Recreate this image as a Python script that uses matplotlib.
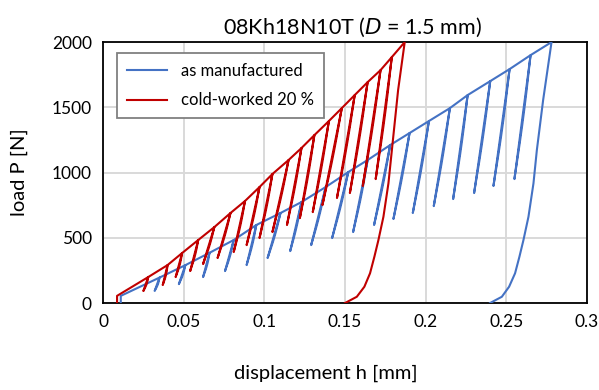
import numpy as np
import matplotlib
matplotlib.use("Agg")
import matplotlib.pyplot as plt

plt.rcParams['font.family'] = ['Lato', 'DejaVu Sans']

# as manufactured (blue)
am_start_h, am_start_P = 0.011, 55
am_peak_h = [0.035, 0.051, 0.066, 0.081, 0.095, 0.110, 0.123, 0.138, 0.152, 0.164,
             0.178, 0.190, 0.202, 0.215, 0.226, 0.240, 0.252, 0.265, 0.278]
am_peak_P = [195, 290, 385, 483, 598, 690, 774, 889, 1004, 1096,
             1211, 1303, 1395, 1494, 1594, 1701, 1793, 1900, 2000]
am_low_h = [0.032, 0.047, 0.062, 0.0756, 0.089, 0.102, 0.116, 0.129, 0.142,
            0.155, 0.168, 0.180, 0.192, 0.205, 0.217, 0.230, 0.242, 0.255]
am_low_P = [93, 145, 199, 245, 291, 345, 398, 444, 498,
            544, 598, 644, 690, 743, 797, 843, 897, 950]
am_unload_h = [0.2728, 0.2689, 0.2668, 0.2637, 0.2606, 0.2581, 0.2554, 0.2517, 0.2472, 0.2399]
am_unload_P = [1556, 1172, 917, 661, 483, 355, 228, 125, 48, 0]

# cold-worked 20 % (red)
cw_start_h, cw_start_P = 0.0087, 55
cw_peak_h = [0.028, 0.040, 0.049, 0.059, 0.069, 0.079, 0.088, 0.097, 0.105, 0.115,
             0.123, 0.131, 0.140, 0.148, 0.156, 0.164, 0.172, 0.179, 0.187]
cw_peak_P = [199, 291, 383, 483, 582, 690, 782, 889, 989, 1096,
             1188, 1287, 1395, 1494, 1594, 1693, 1785, 1885, 2000]
cw_low_h = [0.025, 0.037, 0.045, 0.054, 0.062, 0.071, 0.081, 0.089, 0.097,
            0.105, 0.114, 0.122, 0.130, 0.136, 0.145, 0.153, 0.161, 0.169]
cw_low_P = [92, 138, 199, 245, 299, 345, 391, 444, 498,
            544, 598, 651, 697, 751, 805, 843, 897, 950]
cw_unload_h = [0.1829, 0.1790, 0.1769, 0.1738, 0.1707, 0.1682, 0.1655, 0.1620, 0.1573, 0.1500]
cw_unload_P = [1632, 1172, 917, 661, 483, 355, 228, 125, 48, 0]


def build_path(h0, P0, peak_h, peak_P, low_h, low_P, end_h, end_P, bulge=0.0005):
    hs = [h0, h0]
    ps = [0, P0]
    for i in range(len(low_h)):
        # unload to the lower point, then reload on a slightly shifted path
        hs += [peak_h[i], low_h[i]]
        ps += [peak_P[i], low_P[i]]
        t = np.linspace(0, 1, 8)[1:]
        hs += list(low_h[i] + t * (peak_h[i] - low_h[i]) + bulge * np.sin(np.pi * t))
        ps += list(low_P[i] + t * (peak_P[i] - low_P[i]))
    hs += [peak_h[-1]] + end_h
    ps += [peak_P[-1]] + end_P
    return hs, ps


fig = plt.figure(figsize=(5.99, 3.9), dpi=100)
ax = fig.add_axes([0.172, 0.223, 0.808, 0.669])

h, P = build_path(am_start_h, am_start_P, am_peak_h, am_peak_P,
                  am_low_h, am_low_P, am_unload_h, am_unload_P)
ax.plot(h, P, color='#4472C4', lw=1.5, label='as manufactured', zorder=3)

h, P = build_path(cw_start_h, cw_start_P, cw_peak_h, cw_peak_P,
                  cw_low_h, cw_low_P, cw_unload_h, cw_unload_P)
ax.plot(h, P, color='#C00000', lw=1.5, label='cold-worked 20 %', zorder=4)

ax.set_xlim(0, 0.3)
ax.set_ylim(0, 2000)
ax.set_xticks([0, 0.05, 0.1, 0.15, 0.2, 0.25, 0.3])
ax.set_xticklabels(['0', '0.05', '0.1', '0.15', '0.2', '0.25', '0.3'])
ax.set_yticks([0, 500, 1000, 1500, 2000])
ax.grid(True, color='#D9D9D9', lw=1.4)
ax.set_axisbelow(True)
ax.tick_params(length=0, labelsize=12.5, pad=8)
for s in ax.spines.values():
    s.set_linewidth(1.3)
    s.set_color('black')

ax.set_title('08Kh18N10T ($\\mathit{D}$ = 1.5 mm)', fontsize=15.5, pad=6, x=0.515)
ax.set_xlabel('displacement h [mm]', fontsize=14.5)
ax.xaxis.set_label_coords(0.46, -0.235)
ax.set_ylabel('load P [N]', fontsize=14.5)
ax.yaxis.set_label_coords(-0.155, 0.5)

leg = ax.legend(loc='upper left', bbox_to_anchor=(0.012, 0.99), fontsize=12,
                frameon=True, fancybox=False, framealpha=1, edgecolor='#808080',
                handlelength=2.4, handletextpad=0.8, borderpad=0.6, labelspacing=0.8)
leg.get_frame().set_linewidth(1.3)

fig.savefig('out.png', dpi=100)
